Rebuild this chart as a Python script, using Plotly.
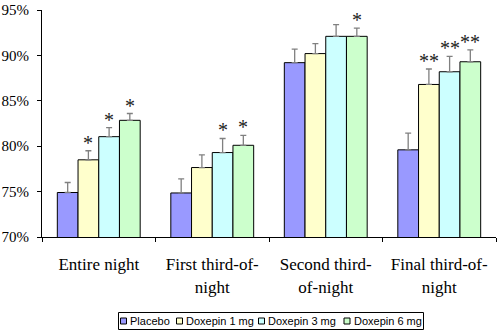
import plotly.graph_objects as go

categories = ["Entire night", "First third-of-<br>night", "Second third-<br>of-night", "Final third-of-<br>night"]
series_names = ["Placebo", "Doxepin 1 mg", "Doxepin 3 mg", "Doxepin 6 mg"]
placebo = [74.9, 74.85, 89.2, 79.6]
placebo_err = [1.1, 1.55, 1.5, 1.85]
dox1 = [78.5, 77.65, 90.2, 86.8]
dox1_err = [1.0, 1.4, 1.1, 1.7]
dox3 = [81.05, 79.3, 92.1, 88.2]
dox3_err = [1.0, 1.55, 1.3, 1.7]
dox6 = [82.85, 80.1, 92.1, 89.3]
dox6_err = [0.75, 1.1, 0.9, 1.3]
placebo_sig = ["", "", "", ""]
dox1_sig = ["*", "", "", "**"]
dox3_sig = ["*", "*", "", "**"]
dox6_sig = ["*", "*", "*", "**"]
y_ticks = [70, 75, 80, 85, 90, 95]
y_tick_text = ["70%", "75%", "80%", "85%", "90%", "95%"]

colors = ["#9999FF", "#FFFFCC", "#CCFFFF", "#CCFFCC"]
values = [placebo, dox1, dox3, dox6]
errors = [placebo_err, dox1_err, dox3_err, dox6_err]
sigs = [placebo_sig, dox1_sig, dox3_sig, dox6_sig]
BARGAP = 0.27

W, H = 498, 330
ML, MR, MT, MB = 42, 2, 10, 93
PW, PH = W - ML - MR, H - MT - MB

fig = go.Figure()
for name, v, e, c in zip(series_names, values, errors, colors):
    fig.add_trace(go.Bar(
        name=name, x=categories, y=v, showlegend=False,
        marker=dict(color=c, line=dict(color="black", width=1)),
        error_y=dict(type="data", symmetric=False, array=e, arrayminus=[0] * len(e),
                     color="#808080", thickness=1.3, width=3),
    ))

n = len(series_names)
group_w = 1 - BARGAP
annotations = []
for j in range(n):
    for i, cat in enumerate(categories):
        s = sigs[j][i]
        if not s:
            continue
        xpos = i - group_w / 2 + (j + 0.5) * group_w / n
        annotations.append(dict(
            x=xpos, y=values[j][i] + errors[j][i], xref="x", yref="y",
            text=s, showarrow=False, yanchor="bottom", yshift=-5,
            font=dict(family="Liberation Serif", size=20, color="#222"),
        ))


# custom compact legend (layout decoration, pixel positions)
def px_x(p):
    return (p - ML) / PW


def px_y(p):
    return (H - MB - p) / PH


shapes = []
legend_box = (118.5, 312.5, 423.5, 329.5)
shapes.append(dict(type="rect", xref="paper", yref="paper",
                   x0=px_x(legend_box[0]), x1=px_x(legend_box[2]),
                   y0=px_y(legend_box[3]), y1=px_y(legend_box[1]),
                   line=dict(color="black", width=1), fillcolor="white", layer="above"))
legend_square_left = [120.5, 176.5, 258.5, 344]
for name, c, sx in zip(series_names, colors, legend_square_left):
    shapes.append(dict(type="rect", xref="paper", yref="paper",
                       x0=px_x(sx), x1=px_x(sx + 6), y0=px_y(324), y1=px_y(318),
                       line=dict(color="black", width=1), fillcolor=c, layer="above"))
    annotations.append(dict(x=px_x(sx + 7.5), y=px_y(321), xref="paper", yref="paper",
                            text=name, showarrow=False, xanchor="left", yanchor="middle",
                            font=dict(family="Liberation Sans", size=11, color="black")))

fig.update_layout(
    width=W, height=H,
    barmode="group", bargap=BARGAP, bargroupgap=0,
    plot_bgcolor="white", paper_bgcolor="white",
    margin=dict(l=ML, r=MR, t=MT, b=MB, autoexpand=False),
    annotations=annotations, shapes=shapes,
    showlegend=False,
    xaxis=dict(type="category", showline=True, linecolor="black", linewidth=1,
               ticks="outside", tickson="boundaries", ticklen=4, tickcolor="black",
               tickfont=dict(family="Liberation Serif", size=17, color="black"),
               ticklabelstandoff=12, showgrid=False, automargin=False),
    yaxis=dict(range=[70, 95], tickmode="array", tickvals=y_ticks, ticktext=y_tick_text,
               showline=True, linecolor="black", linewidth=1,
               ticks="outside", ticklen=4, tickcolor="black",
               tickfont=dict(family="Liberation Serif", size=15, color="black"),
               ticklabelstandoff=5, showgrid=False, zeroline=False, automargin=False),
)

fig.write_html("out.html", config={"displayModeBar": False},
               post_script="document.body.style.margin='0';")
